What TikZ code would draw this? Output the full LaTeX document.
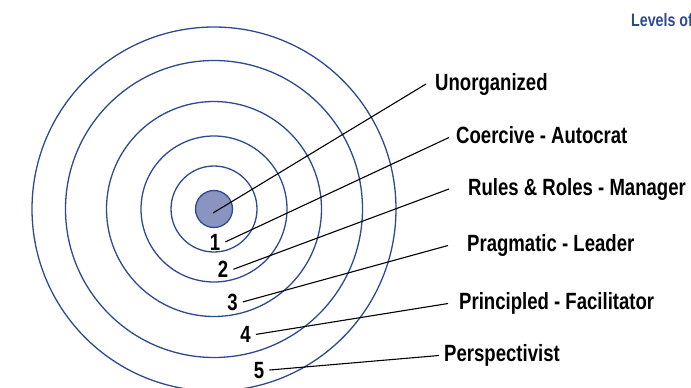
\documentclass[tikz,border=0pt]{standalone}
\usepackage{fontspec}
\usetikzlibrary{positioning, math, calc}
\newfontfamily\labelfont{Liberation Sans}[FakeStretch=0.79]
\definecolor{ringBlue}{HTML}{2E4A8F}
\definecolor{coreFill}{HTML}{8B93C1}

\begin{document}
\begin{tikzpicture}[x=1pt, y=-1pt]
			\tikzmath{
				\cx          		 = 214;   %center of the rings
				\cy          		 = 209;
				\txtH        		 = 17;    %label text height
				\txtD        		 = 5;     %label text depth
			}
			\tikzstyle{Ring} = [
				draw=ringBlue,
				line width=1.3pt
			]
			\tikzstyle{Core} = [
				circle,
				minimum size=37pt,
				inner sep=0pt,
				draw=ringBlue,
				line width=1.3pt,
				fill=coreFill
			]
			\tikzstyle{Num} = [
				anchor=base,
				inner xsep=5pt,
				inner ysep=0pt,
				font=\labelfont\bfseries\fontsize{23.5}{26}\selectfont
			]
			\tikzstyle{Label} = [
				anchor=base west,
				inner sep=0pt,
				text height=\txtH pt,
				text depth=\txtD pt,
				font=\labelfont\bfseries\fontsize{23.5}{26}\selectfont
			]
			\tikzstyle{Leader} = [
				draw=black,
				line width=1.1pt
			]
			\useasboundingbox (0,0) rectangle (691,388);

			% rings
			\node (core) [Core] at (\cx,\cy) {};
			\draw [Ring] (core) circle (43pt);
			\draw [Ring] (core) circle (73pt);
			\draw [Ring] (core) circle (107.5pt);
			\draw [Ring] (core) circle (148.5pt);
			\draw [Ring] (core) circle (182pt);

			% level numbers
			\node (n1) [Num] at (215,250) {1};
			\node (n2) [Num] at (223,277.5) {2};
			\node (n3) [Num] at (232.5,310) {3};
			\node (n4) [Num] at (245.5,342.5) {4};
			\node (n5) [Num] at (259,378) {5};

			% level names
			\node (l0) [Label] at (435,90) {Unorganized};
			\node (l1) [Label] at (456,143.5) {Coercive - Autocrat};
			\node (l2) [Label] at (468,195) {Rules \& Roles - Manager};
			\node (l3) [Label] at (467,251.5) {Pragmatic - Leader};
			\node (l4) [Label] at (459,309.5) {Principled - Facilitator};
			\node (l5) [Label] at (444,361.5) {Perspectivist};

			\node (title) [anchor=base west, inner sep=0pt, text=ringBlue,
				font=\labelfont\bfseries\fontsize{18}{20}\selectfont] at (631,26) {Levels of};

			% leaders
			\draw [Leader] ($(core.center)+(-1,4)$) -- ([xshift=-9pt]l0.west);
			\draw [Leader] (n1.east) -- ([xshift=-7pt]l1.west);
			\draw [Leader] (n2.east) -- ([xshift=-19pt]l2.west);
			\draw [Leader] (n3.east) -- ([xshift=-19pt]l3.west);
			\draw [Leader] (n4.east) -- ([xshift=-11pt]l4.west);
			\draw [Leader] (n5.east) -- ([xshift=-5pt]l5.west);
\end{tikzpicture}
\end{document}
